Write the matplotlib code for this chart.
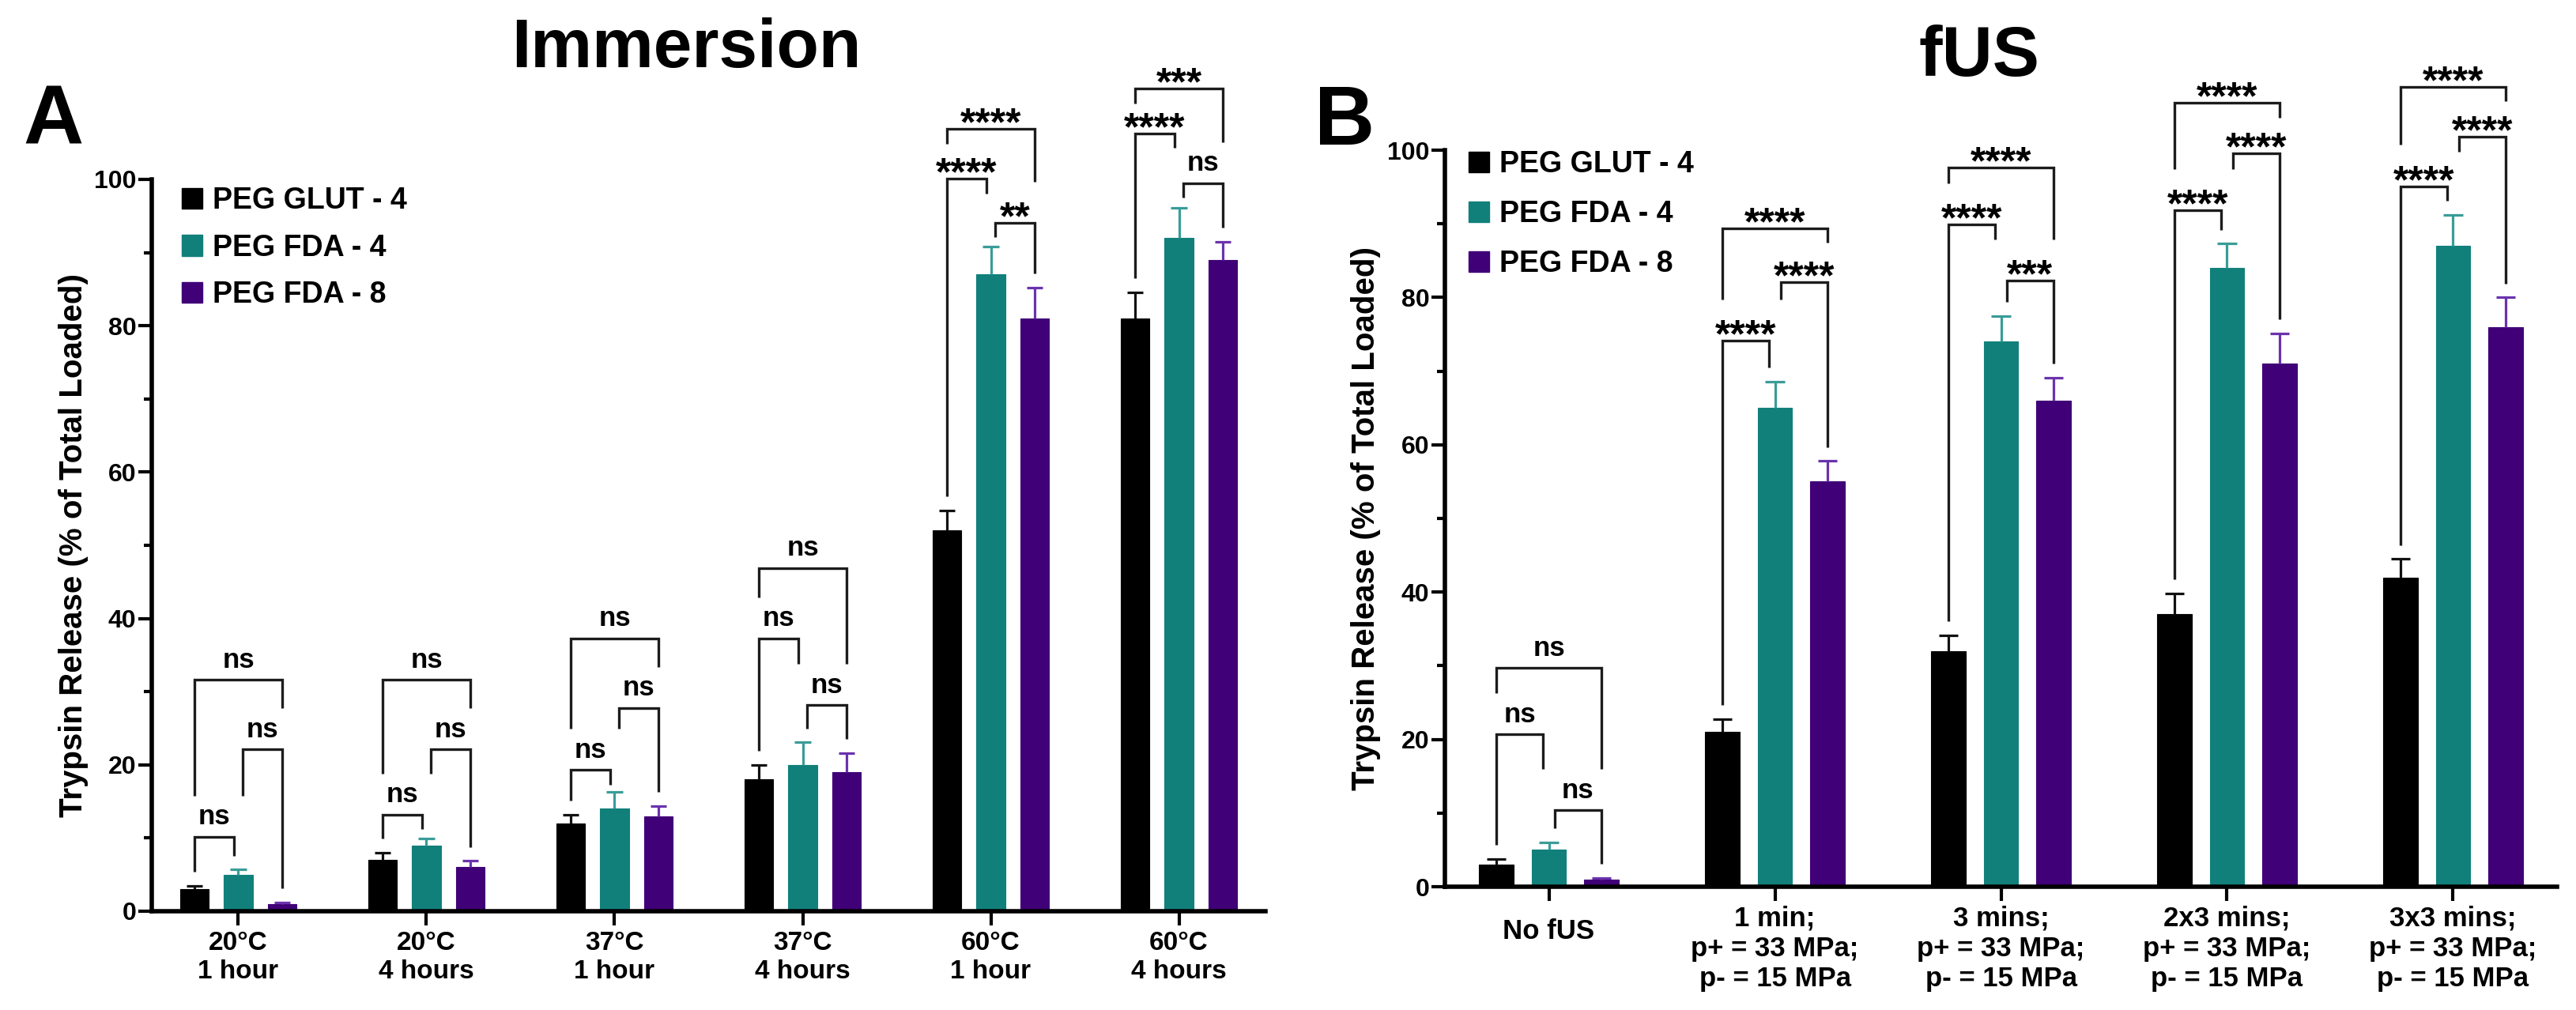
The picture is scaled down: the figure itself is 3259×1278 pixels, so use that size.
import matplotlib
matplotlib.use('Agg')
import matplotlib.pyplot as plt
from matplotlib.patches import Patch
from matplotlib import font_manager
import numpy as np

# ---------------- data ----------------
series_names = ['PEG GLUT - 4', 'PEG FDA - 4', 'PEG FDA - 8']

a_categories = ['20°C\n1 hour', '20°C\n4 hours', '37°C\n1 hour',
                '37°C\n4 hours', '60°C\n1 hour', '60°C\n4 hours']
a_glut = [3, 7, 12, 18, 52, 81]
a_fda4 = [5, 9, 14, 20, 87, 92]
a_fda8 = [1, 6, 13, 19, 81, 89]
a_glut_err = [0.5, 1.0, 1.2, 2.0, 2.8, 3.6]
a_fda4_err = [0.7, 0.9, 2.3, 3.1, 3.8, 4.1]
a_fda8_err = [0.2, 0.9, 1.4, 2.6, 4.2, 2.5]
# significance brackets: GLUT4 vs FDA4, FDA4 vs FDA8, GLUT4 vs FDA8
a_sig_12 = ['ns', 'ns', 'ns', 'ns', '****', '****']
a_sig_23 = ['ns', 'ns', 'ns', 'ns', '**', 'ns']
a_sig_13 = ['ns', 'ns', 'ns', 'ns', '****', '***']
a_lvl_12 = [10.2, 13.2, 19.3, 37.3, 100.1, 106.3]
a_lvl_23 = [22.1, 22.1, 27.8, 28.2, 94.1, 99.5]
a_lvl_13 = [31.6, 31.6, 37.3, 46.9, 106.9, 112.4]

b_categories = ['No fUS',
                '1 min;\np+ = 33 MPa;\np- = 15 MPa',
                '3 mins;\np+ = 33 MPa;\np- = 15 MPa',
                '2x3 mins;\np+ = 33 MPa;\np- = 15 MPa',
                '3x3 mins;\np+ = 33 MPa;\np- = 15 MPa']
b_glut = [3, 21, 32, 37, 42]
b_fda4 = [5, 65, 74, 84, 87]
b_fda8 = [1, 55, 66, 71, 76]
b_glut_err = [0.8, 1.8, 2.1, 2.8, 2.5]
b_fda4_err = [1.0, 3.6, 3.5, 3.3, 4.2]
b_fda8_err = [0.2, 2.8, 3.1, 4.1, 4.0]
b_sig_12 = ['ns', '****', '****', '****', '****']
b_sig_23 = ['ns', '****', '***', '****', '****']
b_sig_13 = ['ns', '****', '****', '****', '****']
b_lvl_12 = [20.7, 74.1, 89.9, 91.8, 95.1]
b_lvl_23 = [10.4, 82.1, 82.3, 99.6, 101.8]
b_lvl_13 = [29.7, 89.4, 97.6, 106.4, 108.6]

y_label = 'Trypsin Release (% of Total Loaded)'

# ---------------- style ----------------
names = {f.name for f in font_manager.fontManager.ttflist}
NARROW = 'Liberation Sans Narrow' if 'Liberation Sans Narrow' in names else 'Liberation Sans'
REG = 'Liberation Sans' if 'Liberation Sans' in names else 'DejaVu Sans'

bar_colors = ['#000000', '#11807b', '#400077']
err_colors = ['#111111', '#3a9c98', '#6a33ad']
bracket_color = '#1c1c1c'

fig = plt.figure(figsize=(32.59, 12.78), dpi=100)

W, H = 3259, 1278
def axes_rect(l, r, top, bottom):
    return [l / W, 1 - bottom / H, (r - l) / W, (bottom - top) / H]

axA = fig.add_axes(axes_rect(192, 1601, 227, 1153))
axB = fig.add_axes(axes_rect(1828, 3235, 190, 1122))

OFFS = [-0.232, 0.0, 0.232]
BW = 0.152
CAPW = 0.085
MID_SHIFT = 0.025


def draw_panel(ax, cats, means, errs, levels, sigs, xlab_pad, xfs, ylab_x):
    n = len(cats)
    x = np.arange(n)
    for k in range(3):
        m = np.asarray(means[k], float)
        e = np.asarray(errs[k], float)
        xs = x + OFFS[k]
        ax.bar(xs, m, width=BW, color=bar_colors[k], edgecolor=bar_colors[k],
               linewidth=0.8, zorder=2)
        ax.vlines(xs, m, m + e, color=err_colors[k], lw=2.3, zorder=3)
        ax.hlines(m + e, xs - CAPW / 2, xs + CAPW / 2, color=err_colors[k],
                  lw=2.3, zorder=3)
    pairs = [(0, 1), (1, 2), (0, 2)]
    for g in range(n):
        for p, (i, j) in enumerate(pairs):
            lvl = levels[p][g]

            def leg_bottom(k):
                obs = [means[k][g] + errs[k][g] + 1.9]
                for q, (a, b) in enumerate(pairs):
                    if q != p and levels[q][g] < lvl and a <= k <= b:
                        obs.append(levels[q][g] + 5.6)
                return min(max(obs), lvl - 2.0)

            xl = g + OFFS[i] + (MID_SHIFT if i == 1 else 0.0)
            xr = g + OFFS[j] - (MID_SHIFT if j == 1 else 0.0)
            ax.plot([xl, xl, xr, xr], [leg_bottom(i), lvl, lvl, leg_bottom(j)],
                    color=bracket_color, lw=2.4, clip_on=False, zorder=4,
                    solid_joinstyle='miter', solid_capstyle='butt')
            lab = sigs[p][g]
            if lab == 'ns':
                ax.annotate(lab, xy=((xl + xr) / 2, lvl), xytext=(0, 11),
                            textcoords='offset points', ha='center', va='baseline',
                            fontsize=25, fontweight='bold', family=REG,
                            annotation_clip=False)
            else:
                ax.annotate(lab, xy=((xl + xr) / 2, lvl), xytext=(0, -6),
                            textcoords='offset points', ha='center', va='baseline',
                            fontsize=36, fontweight='bold', family=REG,
                            annotation_clip=False)

    ax.set_xlim(-0.46, n - 1 + 0.46)
    ax.set_ylim(0, 100)
    ax.set_yticks([0, 20, 40, 60, 80, 100])
    ax.set_yticks([10, 30, 50, 70, 90], minor=True)
    ax.set_xticks(x)
    ax.set_xticklabels(cats, fontsize=xfs, fontweight='bold', family=NARROW,
                       linespacing=1.2)
    for t in ax.get_yticklabels():
        t.set_fontsize(23)
        t.set_fontweight('bold')
        t.set_family(NARROW)
    for s in ['top', 'right']:
        ax.spines[s].set_visible(False)
    for s in ['left', 'bottom']:
        ax.spines[s].set_linewidth(4)
    ax.tick_params(axis='y', which='major', length=12, width=3, pad=2)
    ax.tick_params(axis='y', which='minor', length=7, width=3)
    ax.tick_params(axis='x', which='major', length=13, width=3, pad=xlab_pad)
    ax.text(ylab_x, 0.5, y_label, transform=ax.transAxes,
            rotation=90, ha='center', va='center', fontsize=29,
            fontweight='bold', family=REG)
    handles = [Patch(facecolor=c, edgecolor=c) for c in bar_colors]
    return handles


hA = draw_panel(axA, a_categories, [a_glut, a_fda4, a_fda8],
                [a_glut_err, a_fda4_err, a_fda8_err],
                [a_lvl_12, a_lvl_23, a_lvl_13], [a_sig_12, a_sig_23, a_sig_13],
                xlab_pad=5, xfs=24, ylab_x=-0.070)
hB = draw_panel(axB, b_categories, [b_glut, b_fda4, b_fda8],
                [b_glut_err, b_fda4_err, b_fda8_err],
                [b_lvl_12, b_lvl_23, b_lvl_13], [b_sig_12, b_sig_23, b_sig_13],
                xlab_pad=4, xfs=25, ylab_x=-0.071)

# "No fUS" sits a bit lower than the first line of the other labels
axB.set_xticklabels([''] + b_categories[1:], fontsize=25, fontweight='bold',
                    family=NARROW, linespacing=1.2)
axB.annotate(b_categories[0], xy=(0, 0), xycoords=('data', 'axes fraction'),
             xytext=(0, -29), textcoords='offset points', ha='center', va='top',
             fontsize=25, fontweight='bold', family=NARROW, annotation_clip=False)

axA.legend(hA, series_names, loc='upper left', bbox_to_anchor=(0.027, 0.99),
           frameon=False, prop={'family': NARROW, 'weight': 'bold', 'size': 27},
           handlelength=0.7, handleheight=0.7, handletextpad=0.35,
           labelspacing=0.62, borderpad=0, borderaxespad=0)
axB.legend(hB, series_names, loc='upper left', bbox_to_anchor=(0.021, 1.0),
           frameon=False, prop={'family': NARROW, 'weight': 'bold', 'size': 27},
           handlelength=0.7, handleheight=0.7, handletextpad=0.35,
           labelspacing=0.72, borderpad=0, borderaxespad=0)

# titles and panel letters
fig.text(868 / W, 1 - 85 / H, 'Immersion', ha='center', va='baseline',
         fontsize=63, fontweight='bold', family=NARROW)
fig.text(2504 / W, 1 - 96 / H, 'fUS', ha='center', va='baseline',
         fontsize=64, fontweight='bold', family=NARROW)
fig.text(29 / W, 1 - 183 / H, 'A', ha='left', va='baseline',
         fontsize=76, fontweight='bold', family=REG)
fig.text(1663 / W, 1 - 183 / H, 'B', ha='left', va='baseline',
         fontsize=76, fontweight='bold', family=REG)

fig.savefig('out.png', dpi=100, facecolor='white')
